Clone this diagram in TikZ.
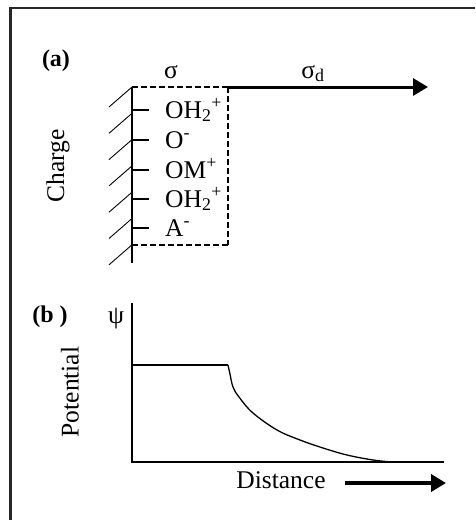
\documentclass[tikz,border=0pt]{standalone}
\usepackage{fontspec}
\setmainfont{Liberation Serif}
\usetikzlibrary{arrows.meta, positioning}

\begin{document}
\begin{tikzpicture}[
  x=1pt, y=-1pt,
  txt/.style={
    inner sep=0pt,
    font=\fontsize{25.5}{27}\selectfont
  },
  ion/.style={
    txt,
    anchor=base west
  },
  tag/.style={
    inner sep=0pt,
    font=\fontsize{24}{26}\selectfont\bfseries
  },
  axis/.style={line width=1.6pt},
  hatch/.style={line width=0.9pt},
  dtop/.style={line width=2.6pt, dash pattern=on 6pt off 3pt},
  dside/.style={line width=1.2pt, dash pattern=on 6pt off 3pt},
  arr/.style={-{Triangle[length=15pt, width=17pt]}, line width=3pt},
]
\useasboundingbox (0,0) rectangle (475,520);

% frame
\draw[line width=2.5pt, black!85] (10.5,520) -- (10.5,8) -- (475,8);

% (a) surface charge
\node[tag] (taga) at (56,61) {(a)};
\node[txt, rotate=90] (charge) at (58,166) {Charge};

\coordinate (wtop) at (132,87);
\coordinate (wbot) at (132,263);
\coordinate (bxtr) at (228,87);
\coordinate (bxbr) at (228,245);
\coordinate (bxbl) at (132,245);
\coordinate (arrend) at (428,87);

\draw[axis] (wtop) -- (wbot);
\foreach \y in {87,113.3,139.6,165.9,192.2,218.5,244.8}
  \draw[hatch] (109,\y+20) -- (132,\y);

\foreach \y/\nm/\lab in {110/ion1/{OH\textsubscript{2}\textsuperscript{+}},
                        140/ion2/{O\textsuperscript{-}},
                        170/ion3/{OM\textsuperscript{+}},
                        199/ion4/{OH\textsubscript{2}\textsuperscript{+}},
                        228/ion5/{A\textsuperscript{-}}}{
  \draw[axis] (132,\y) -- (149,\y);
  \node[ion] (\nm) at (165,\y+8) {\lab};
}

\draw[dtop] (wtop) -- (bxtr);
\draw[dside] (bxtr) -- (bxbr);
\draw[dtop] (bxbl) -- (bxbr);
\draw[arr] (bxtr) -- (arrend);

\node[txt, anchor=base] (sig) at (171,78) {σ};
\node[txt, anchor=base] (sigd) at (313,78) {σ\textsubscript{d}};

% (b) potential
\node[tag] (tagb) at (50,317) {(b )};
\node[txt] (psi) at (116,319) {ψ};
\node[txt, rotate=90] (pot) at (70,392) {Potential};

\coordinate (orig) at (132,462);
\coordinate (ytop) at (132,303);
\coordinate (xend) at (444,462);
\coordinate (plat) at (132,365);
\coordinate (knee) at (228,365);

\draw[axis] (ytop) -- (orig) -- (xend);
\draw[axis] (plat) -- (knee);
\draw[line width=1.3pt] plot[smooth, tension=0.6] coordinates {
  (228,365) (230,374) (233,387) (239,397) (253,413) (277,430)
  (300,440) (323,448) (347,455) (373,460) (392,462)};

\node[txt, anchor=base] (dist) at (281,488) {Distance};
\coordinate (dstart) at (345,483);
\coordinate (dend) at (446,483);
\draw[arr, line width=4pt] (dstart) -- (dend);

\end{tikzpicture}
\end{document}
